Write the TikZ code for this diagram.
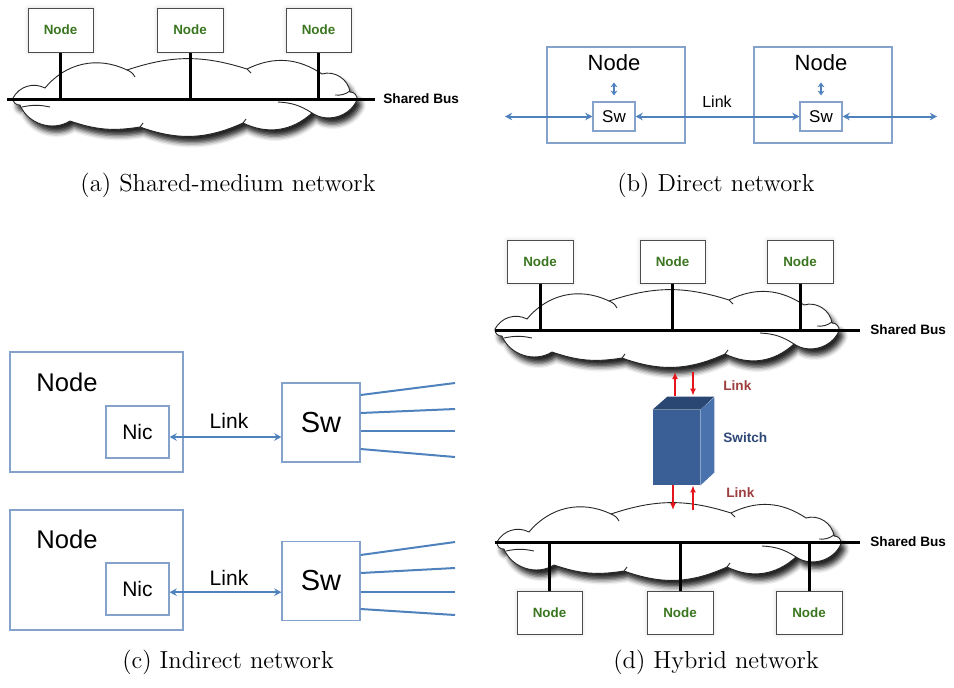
\documentclass[tikz,border=0pt]{standalone}
\usepackage{fontspec}
\newfontfamily\arialfont{Liberation Sans}
\usetikzlibrary{arrows.meta,shadows.blur,calc}
\definecolor{nodegreen}{RGB}{58,118,32}
\definecolor{frameblue}{RGB}{132,162,204}
\definecolor{arrowblue}{RGB}{79,129,189}
\definecolor{linkred}{RGB}{228,22,28}
\definecolor{linktext}{RGB}{158,62,62}
\definecolor{switchtext}{RGB}{46,72,118}
\definecolor{swfront}{RGB}{58,94,150}
\definecolor{swtop}{RGB}{42,70,114}
\definecolor{swside}{RGB}{74,114,172}

% A flat cloud standing behind a shared bus (drawn in pixel-like units;
% on a clockwise run "bend left" bulges outwards)
\newcommand\buscloud{%
  \draw[cloudline, fill=white,
        blur shadow={shadow xshift=2pt, shadow yshift=-3.2pt, shadow blur radius=2.4pt, shadow opacity=85}]
    (13,98) to[bend left=45] (45,88) to[bend left=38] (127,70)
    to[bend left=18] (247,69) to[bend left=30] (322,74)
    to[bend left=50] (350,92) to[bend left=55] (357,100)
    to[bend left=50] (312,113) to[bend left=34] (243,123)
    to[bend left=22] (140,127) to[bend left=14] (70,121)
    to[bend left=50] (20,105) to[bend left=55] (13,98) -- cycle;
  % overlapping puff edges seen inside the cloud
  \draw[cloudline] (22,107) to[bend left=12] (50,107);
  \draw[cloudline] (127,70) to[bend left=20] (135,77);
  \draw[cloudline] (247,69) -- (251,73);
  \draw[cloudline] (335,95) to[bend right=20] (350,91);
  \draw[cloudline] (278,102) to[bend left=15] (312,113);
  \draw[cloudline] (243,123) -- (246,119);
  \draw[cloudline] (140,127) -- (143,123);
}

\begin{document}
\begin{tikzpicture}[x=0.5pt,y=-0.5pt,
  sz/.style 2 args={minimum width=#1*0.5pt, minimum height=#2*0.5pt},
  hostbox/.style={draw=black!70, line width=0.5pt, fill=white, inner sep=0,
    text=nodegreen, font=\arialfont\bfseries\fontsize{6.7}{8}\selectfont,
    blur shadow={shadow xshift=0pt, shadow yshift=0pt, shadow blur radius=2pt, shadow opacity=15}},
  cloudline/.style={draw=black!85, line width=0.45pt},
  busline/.style={line width=1.5pt, draw=black},
  stem/.style={line width=1.5pt, draw=black},
  buslabel/.style={anchor=west, inner sep=0, font=\arialfont\bfseries\fontsize{6.8}{8}\selectfont},
  frame/.style={draw=frameblue, line width=0.6pt, inner sep=0},
  lbl/.style={inner sep=0, font=\arialfont\fontsize{#1}{#1}\selectfont},
  link/.style={draw=arrowblue, line width=1pt,
    {Stealth[length=3.6pt,width=3.8pt,inset=1.2pt]}-{Stealth[length=3.6pt,width=3.8pt,inset=1.2pt]}},
  shortlink/.style={draw=arrowblue, line width=1pt,
    {Stealth[length=2.4pt,width=3.4pt,inset=0.8pt]}-{Stealth[length=2.4pt,width=3.4pt,inset=0.8pt]}},
  fan/.style={draw=arrowblue, line width=1pt},
  redarr/.style={draw=linkred, line width=1pt, -{Latex[length=3.5pt,width=3pt]}},
  caption/.style={inner sep=0, font=\fontsize{12.3}{15}\selectfont}
]
\useasboundingbox (0,0) rectangle (954,687);

% ---------------- (a) shared-medium network ----------------
\buscloud
\coordinate (busAl) at (7,99);
\coordinate (busAr) at (375,99);
\draw[busline] (busAl) -- (busAr);
\node[buslabel] (sbA) at (383,99) {Shared Bus};
\node[hostbox, sz={65}{44}] (a1) at (60.5,30) {Node};
\node[hostbox, sz={66}{44}] (a2) at (190,30) {Node};
\node[hostbox, sz={65}{44}] (a3) at (318.5,30) {Node};
\foreach \n in {a1,a2,a3} \draw[stem] (\n.south) -- (\n.south |- busAl);
\node[caption] (capa) at (228,185) {(a) Shared-medium network};

% ---------------- (b) direct network ----------------
\node[frame, sz={138}{96}] (b1) at (616,95) {};
\node[frame, sz={138}{96}] (b2) at (823,95) {};
\node[lbl=11] (nb1) at (614,63) {Node};
\node[lbl=11] (nb2) at (821,63) {Node};
\node[frame, sz={42}{29}, lbl=8.5] (sw1) at (614,116.5) {Sw};
\node[frame, sz={42}{29}, lbl=8.5] (sw2) at (821,116.5) {Sw};
\draw[shortlink, shorten <=5.5pt, shorten >=3pt] (nb1.south) -- (sw1.north);
\draw[shortlink, shorten <=5.5pt, shorten >=3pt] (nb2.south) -- (sw2.north);
\coordinate (bL) at (505,116.5);
\coordinate (bR) at (937,116.5);
\draw[link] (bL) -- (sw1.west);
\draw[link] (sw1.east) -- (sw2.west);
\draw[link] (sw2.east) -- (bR);
\node[lbl=8] (lkb) at (717,102) {Link};
\node[caption] (capb) at (716,185) {(b) Direct network};

% ---------------- (c) indirect network ----------------
\node[frame, sz={173}{120}] (c1) at (96.5,412) {};
\node[lbl=12.8, anchor=west] (cn1) at (36,382) {Node};
\node[frame, sz={63}{52}, lbl=10.5] (nic1) at (137.5,432) {Nic};
\node[frame, sz={78}{79}, lbl=14.5] (swc1) at (321,422.5) {Sw};
\draw[link] ([yshift=-2.5pt]nic1.east) -- ([yshift=-2.5pt]nic1.east -| swc1.west);
\node[lbl=10.5] (lkc1) at (229,421) {Link};
\foreach \i/\s/\e in {1/395/383, 2/413/409, 3/431/431, 4/449/457} {
  \coordinate (fa\i) at (455,\e);
  \draw[fan] ($(swc1.east)+(0,\s-422.5)$) -- (fa\i);
}

\node[frame, sz={173}{120}] (c2) at (96.5,570) {};
\node[lbl=12.8, anchor=west] (cn2) at (36,539) {Node};
\node[frame, sz={63}{52}, lbl=10.5] (nic2) at (137.5,589) {Nic};
\node[frame, sz={78}{79}, lbl=14.5] (swc2) at (321,581) {Sw};
\draw[link] ([yshift=-1.6pt]nic2.east) -- ([yshift=-1.6pt]nic2.east -| swc2.west);
\node[lbl=10.5] (lkc2) at (229,578) {Link};
\foreach \i/\s/\e in {1/555/542, 2/573/568, 3/592/592, 4/609/615} {
  \coordinate (fb\i) at (455,\e);
  \draw[fan] ($(swc2.east)+(0,\s-581)$) -- (fb\i);
}
\node[caption] (capc) at (228,662) {(c) Indirect network};

% ---------------- (d) hybrid network ----------------
% upper bus
\begin{scope}[shift={(482,231)}]
  \buscloud
\end{scope}
\coordinate (busBl) at (495,330);
\coordinate (busBr) at (860,330);
\draw[busline] (busBl) -- (busBr);
\node[buslabel] (sbB) at (870,330) {Shared Bus};
\node[hostbox, sz={66}{43}] (d1) at (540,261.5) {Node};
\node[hostbox, sz={65}{43}] (d2) at (672.5,261.5) {Node};
\node[hostbox, sz={66}{43}] (d3) at (800,261.5) {Node};
\foreach \n in {d1,d2,d3} \draw[stem] (\n.south) -- (\n.south |- busBl);

% lower bus
\begin{scope}[shift={(484,444)}]
  \buscloud
\end{scope}
\coordinate (busCl) at (495,542);
\coordinate (busCr) at (860,542);
\draw[busline] (busCl) -- (busCr);
\node[buslabel] (sbC) at (870,542) {Shared Bus};
\node[hostbox, sz={65}{43}] (e1) at (549.5,612.5) {Node};
\node[hostbox, sz={66}{43}] (e2) at (680,612.5) {Node};
\node[hostbox, sz={66}{43}] (e3) at (809,612.5) {Node};
\foreach \n in {e1,e2,e3} \draw[stem] (\n.north) -- (\n.north |- busCl);

% switch box
\node[fill=swfront, inner sep=0, sz={47}{75}] (swd) at (676.5,447.5) {};
\fill[swtop] (swd.north west) -- (swd.north east) -- ++(14,-13) -- ++(-47,0) -- cycle;
\fill[swside] (swd.north east) -- (swd.south east) -- ++(14,-13) -- ++(0,-75) -- cycle;
\node[anchor=west, inner sep=0, text=switchtext, font=\arialfont\bfseries\fontsize{6.8}{8}\selectfont] (swl) at (723,438) {Switch};

% links between switch and buses
\coordinate (ut1) at (675,372);
\coordinate (ut2) at (693,372);
\coordinate (ub1) at (673,510);
\coordinate (ub2) at (693,510);
\draw[redarr] ($(swd.north)+(-1.5,-14)$) -- (ut1);
\draw[redarr] (ut2) -- ($(swd.north)+(16.5,-14)$);
\draw[redarr] ($(swd.south)+(-3.5,0)$) -- (ub1);
\draw[redarr] (ub2) -- ($(swd.south)+(16.5,0)$);
\node[anchor=west, inner sep=0, text=linktext, font=\arialfont\bfseries\fontsize{6.8}{8}\selectfont] (lkd1) at (723,386) {Link};
\node[anchor=west, inner sep=0, text=linktext, font=\arialfont\bfseries\fontsize{6.8}{8}\selectfont] (lkd2) at (726,493) {Link};
\node[caption] (capd) at (716,662) {(d) Hybrid network};
\end{tikzpicture}
\end{document}
